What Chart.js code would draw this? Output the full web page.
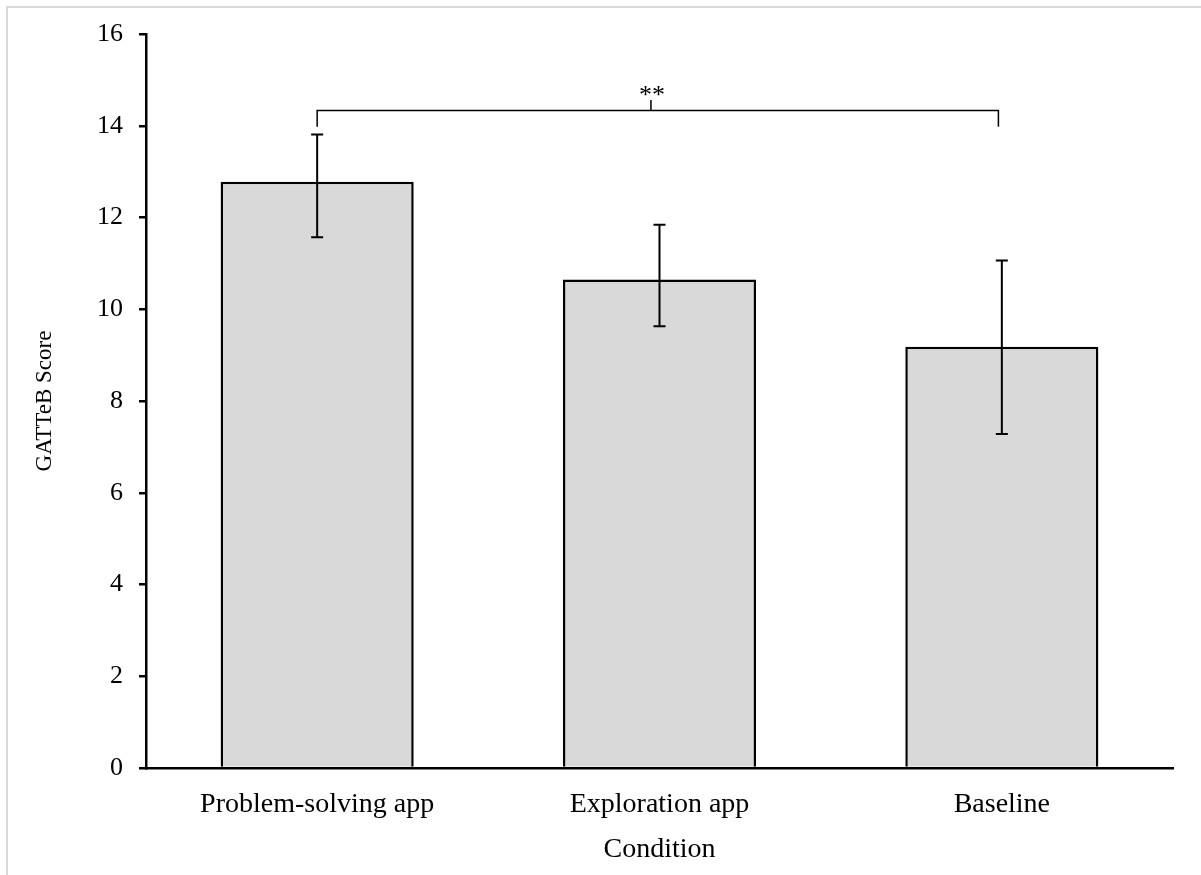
<!DOCTYPE html>
<html>
<head>
<meta charset="utf-8">
<script src="https://cdn.jsdelivr.net/npm/chart.js@4"></script>
<style>
  html, body { margin: 0; padding: 0; background: #fff; }
</style>
</head>
<body>
<canvas id="chart" width="1201" height="875"></canvas>
<script>
const conditions = ["Problem-solving app", "Exploration app", "Baseline"];
const meanScores = [12.78, 10.65, 9.18];
const errLow = [11.57, 9.63, 7.28];
const errHigh = [13.81, 11.84, 11.06];
const yTicks = [0, 2, 4, 6, 8, 10, 12, 14, 16];

// significance bracket between the first and last condition
const bracketFrom = 0;
const bracketTo = 1.99;
const bracketMid = 0.975;
const bracketY = 14.33;
const bracketFoot = 13.98;
const bracketTip = 14.56;
const bracketLabel = "**";

const font = "'Liberation Serif', 'Times New Roman', serif";

const frame = {
  id: "frame",
  beforeDraw(chart) {
    const c = chart.ctx;
    c.save();
    c.strokeStyle = "#d9d9d9";
    c.lineWidth = 2;
    c.beginPath();
    c.moveTo(7, chart.height);
    c.lineTo(7, 7);
    c.lineTo(chart.width, 7);
    c.stroke();
    c.restore();
  }
};

const errorBars = {
  id: "errorBars",
  afterDatasetsDraw(chart) {
    const c = chart.ctx;
    const x = chart.scales.x, y = chart.scales.y;
    c.save();
    c.strokeStyle = "#000";
    c.lineWidth = 2;
    conditions.forEach((_, i) => {
      const px = x.getPixelForValue(i);
      const lo = y.getPixelForValue(errLow[i]);
      const hi = y.getPixelForValue(errHigh[i]);
      c.beginPath();
      c.moveTo(px, lo); c.lineTo(px, hi);
      c.moveTo(px - 6, lo); c.lineTo(px + 6, lo);
      c.moveTo(px - 6, hi); c.lineTo(px + 6, hi);
      c.stroke();
    });

    // bracket
    const x1 = x.getPixelForValue(bracketFrom);
    const x2 = x.getPixelForValue(bracketTo);
    const xm = x.getPixelForValue(bracketMid);
    const yb = y.getPixelForValue(bracketY);
    const yf = y.getPixelForValue(bracketFoot);
    const yt = y.getPixelForValue(bracketTip);
    c.lineWidth = 1.5;
    c.beginPath();
    c.moveTo(x1, yf); c.lineTo(x1, yb); c.lineTo(x2, yb); c.lineTo(x2, yf);
    c.moveTo(xm, yb); c.lineTo(xm, yt);
    c.stroke();
    c.fillStyle = "#000";
    c.font = "26px " + font;
    c.textAlign = "center";
    c.textBaseline = "alphabetic";
    c.fillText(bracketLabel, xm + 1, yt + 3);
    c.restore();
  }
};

new Chart(document.getElementById("chart"), {
  type: "bar",
  data: {
    labels: conditions,
    datasets: [{
      data: meanScores,
      backgroundColor: "#d9d9d9",
      borderColor: "#000",
      borderWidth: 2.5,
      categoryPercentage: 1,
      barPercentage: 0.564
    }]
  },
  options: {
    responsive: false,
    animation: false,
    layout: { padding: { left: 20, right: 28, top: 34, bottom: 0 } },
    plugins: {
      legend: { display: false },
      tooltip: { enabled: false }
    },
    scales: {
      x: {
        grid: { display: false },
        border: { display: true, color: "#000", width: 2.5 },
        ticks: { color: "#000", font: { family: font, size: 28 }, padding: 12 },
        title: {
          display: true, text: "Condition", color: "#000",
          font: { family: font, size: 28 }, padding: { top: 0, bottom: 9 }
        },
        afterFit(s) { s.height = 107; }
      },
      y: {
        min: 0, max: 16,
        afterBuildTicks(s) { s.ticks = yTicks.map(v => ({ value: v })); },
        grid: { drawOnChartArea: false, drawTicks: true, tickLength: 7, color: "#000", lineWidth: 2.5 },
        border: { display: true, color: "#000", width: 2.5 },
        ticks: { color: "#000", font: { family: font, size: 26 }, padding: 16 },
        title: {
          display: true, text: "GATTeB Score", color: "#000",
          font: { family: font, size: 23 }, padding: { top: 11, bottom: 0 }
        },
        afterFit(s) { s.width = 126; }
      }
    }
  },
  plugins: [frame, errorBars]
});
</script>
</body>
</html>
